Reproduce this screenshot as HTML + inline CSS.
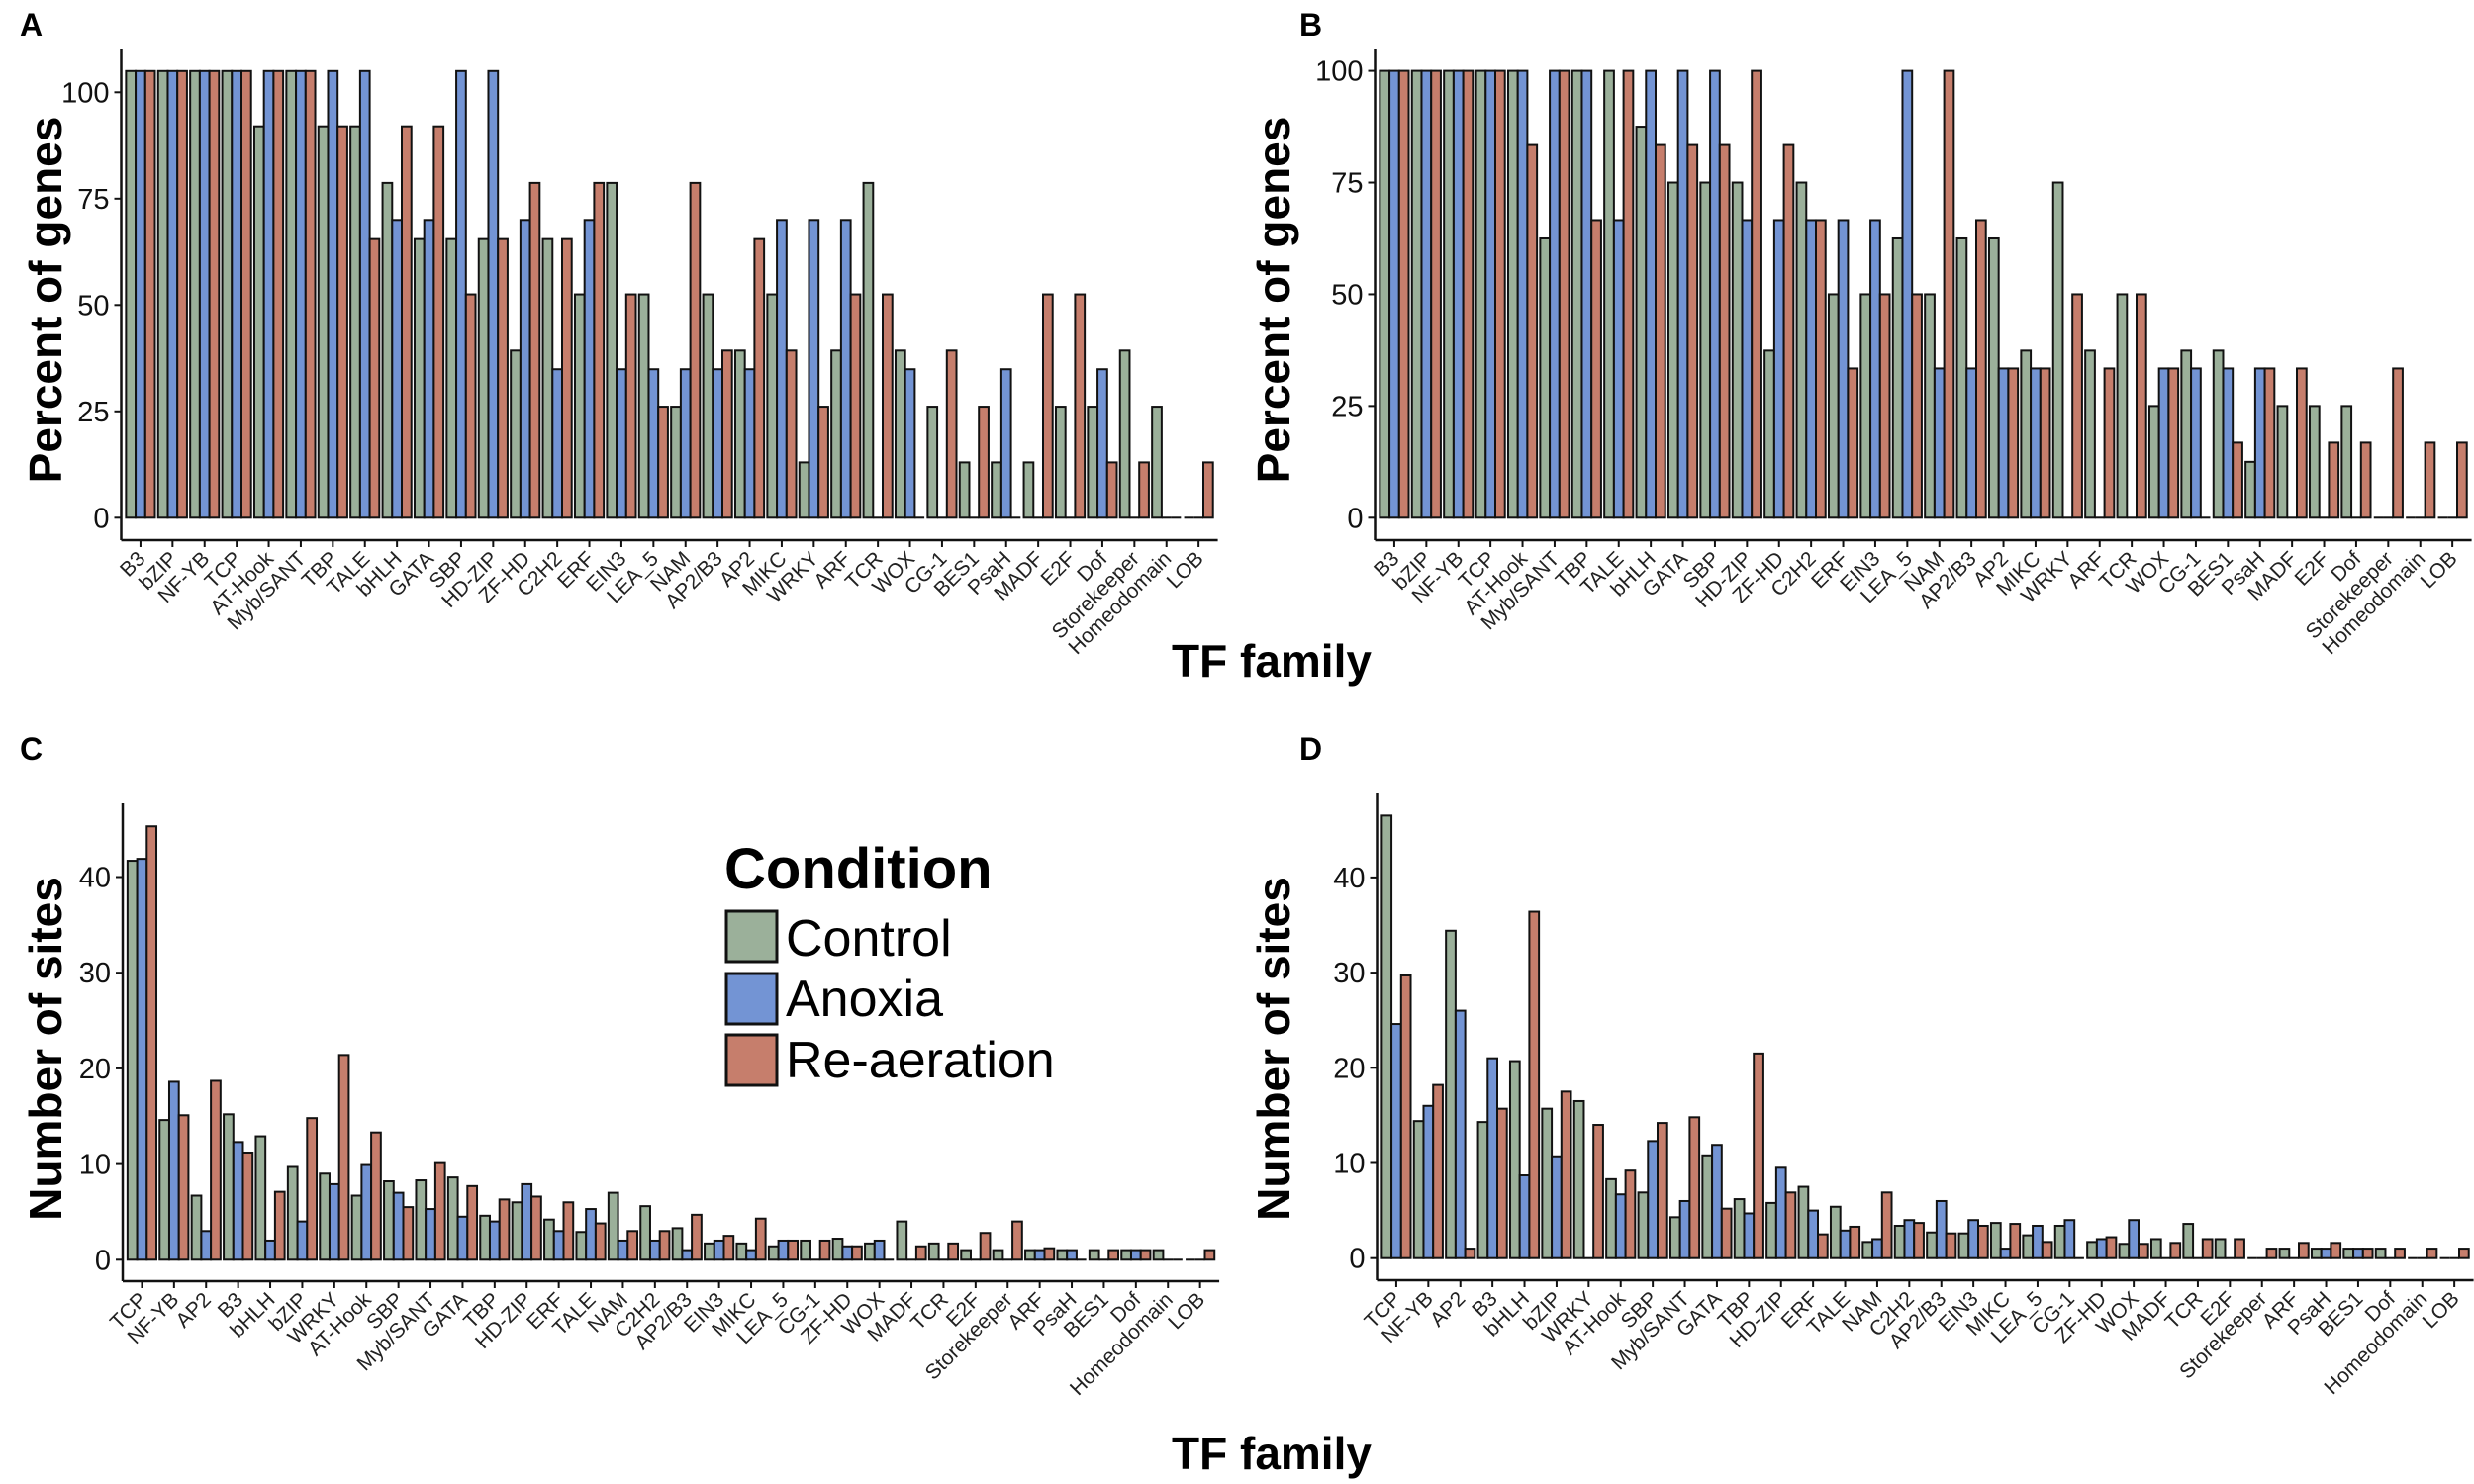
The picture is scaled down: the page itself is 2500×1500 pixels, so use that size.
<!DOCTYPE html>
<html><head><meta charset="utf-8"><style>
html,body{margin:0;padding:0;background:#fff;}
svg{display:block;font-family:"Liberation Sans",Arial,sans-serif;}
</style></head><body>
<svg id="fig" width="2500" height="1500" viewBox="0 0 2500 1500" xmlns="http://www.w3.org/2000/svg">
<rect x="0" y="0" width="2500" height="1500" fill="#fff"/>
<text x="20" y="36" font-size="32" font-weight="bold">A</text>
<text x="1313" y="36" font-size="32" font-weight="bold">B</text>
<text x="20" y="768" font-size="32" font-weight="bold">C</text>
<text x="1313" y="768" font-size="32" font-weight="bold">D</text>
<text transform="translate(62,303) rotate(-90)" text-anchor="middle" font-size="46" font-weight="bold">Percent of genes</text>
<text transform="translate(1303,303) rotate(-90)" text-anchor="middle" font-size="46" font-weight="bold">Percent of genes</text>
<text transform="translate(62,1060) rotate(-90)" text-anchor="middle" font-size="46" font-weight="bold">Number of sites</text>
<text transform="translate(1303,1060) rotate(-90)" text-anchor="middle" font-size="46" font-weight="bold">Number of sites</text>
<text x="1285" y="684" text-anchor="middle" font-size="46" font-weight="bold">TF family</text>
<text x="1285" y="1485" text-anchor="middle" font-size="46" font-weight="bold">TF family</text>
<g>
<text x="732" y="898" font-size="58" font-weight="bold">Condition</text>
<rect x="734" y="921" width="51" height="51" fill="#9bb09a" stroke="#111" stroke-width="3"/>
<text x="794" y="966" font-size="52">Control</text>
<rect x="734" y="984" width="51" height="51" fill="#7394d4" stroke="#111" stroke-width="3"/>
<text x="794" y="1027" font-size="52">Anoxia</text>
<rect x="734" y="1046" width="51" height="51" fill="#c67e6c" stroke="#111" stroke-width="3"/>
<text x="794" y="1089" font-size="52">Re-aeration</text>
</g>
</svg>
<script>
const catsAB = ["B3","bZIP","NF-YB","TCP","AT-Hook","Myb/SANT","TBP","TALE","bHLH","GATA","SBP","HD-ZIP","ZF-HD","C2H2","ERF","EIN3","LEA_5","NAM","AP2/B3","AP2","MIKC","WRKY","ARF","TCR","WOX","CG-1","BES1","PsaH","MADF","E2F","Dof","Storekeeper","Homeodomain","LOB"];
const catsCD = ["TCP","NF-YB","AP2","B3","bHLH","bZIP","WRKY","AT-Hook","SBP","Myb/SANT","GATA","TBP","HD-ZIP","ERF","TALE","NAM","C2H2","AP2/B3","EIN3","MIKC","LEA_5","CG-1","ZF-HD","WOX","MADF","TCR","E2F","Storekeeper","ARF","PsaH","BES1","Dof","Homeodomain","LOB"];
const ticksAB = [0,25,50,75,100];
const ticksCD = [0,10,20,30,40];

const ctrlA = [105,105,105,105,92,105,92,92,78.7,65.5,65.5,65.5,39.3,65.5,52.5,78.7,52.5,26.1,52.5,39.3,52.5,13,39.3,78.7,39.3,26.1,13,13,13,26.1,26.1,39.3,26.1,0];
const anoxA = [105,105,105,105,105,105,105,105,70,70,105,105,70,34.9,70,34.9,34.9,34.9,34.9,34.9,70,70,70,0,34.9,0,0,34.9,0,0,34.9,0,0,0];
const reaerA = [105,105,105,105,105,105,92,65.5,92,92,52.5,65.5,78.7,65.5,78.7,52.5,26.1,78.7,39.3,65.5,39.3,26.1,52.5,52.5,0,39.3,26.1,0,52.5,52.5,13,13,0,13];

const ctrlB = [100,100,100,100,100,62.5,100,100,87.5,75,75,75,37.4,75,50,50,62.5,50,62.5,62.5,37.4,75,37.4,50,25,37.4,37.4,12.5,25,25,25,0,0,0];
const anoxB = [100,100,100,100,100,100,100,66.6,100,100,100,66.6,66.6,66.6,66.6,66.6,100,33.4,33.4,33.4,33.4,0,0,0,33.4,33.4,33.4,33.4,0,0,0,0,0,0];
const reaerB = [100,100,100,100,83.4,100,66.6,100,83.4,83.4,83.4,100,83.4,66.6,33.4,50,50,100,66.6,33.4,33.4,50,33.4,50,33.4,0,16.8,33.4,33.4,16.8,16.8,33.4,16.8,16.8];

const ctrlC = [41.7,14.6,6.7,15.2,12.9,9.7,9,6.7,8.2,8.3,8.6,4.6,6,4.2,2.9,7,5.6,3.3,1.7,1.7,1.4,2,2.2,1.7,4,1.7,1,1,1,1,1,1,1,0];
const anoxC = [41.9,18.6,3,12.3,2,4,7.9,9.9,7,5.3,4.5,4,7.9,3,5.3,2,2,1,2,1,2,0,1.4,2,0,0,0,0,1,1,0,1,0,0];
const reaerC = [45.3,15.1,18.7,11.2,7.1,14.8,21.4,13.3,5.5,10.1,7.7,6.3,6.6,6,3.8,3,3,4.7,2.5,4.3,2,2,1.4,0,1.4,1.7,2.8,4,1.2,0,1,1,0,1];

const ctrlD = [46.5,14.4,34.4,14.3,20.7,15.7,16.5,8.3,6.9,4.3,10.8,6.2,5.8,7.5,5.4,1.7,3.4,2.7,2.6,3.7,2.4,3.4,1.7,1.5,2,3.6,2,0,1,1,1,1,0,0];
const anoxD = [24.6,16,26,21,8.7,10.7,0,6.7,12.3,6,11.9,4.7,9.5,5,2.9,2,4,6,4,1,3.4,4,2,4,0,0,0,0,0,1,1,0,0,0];
const reaerD = [29.7,18.2,1,15.7,36.4,17.5,14,9.2,14.2,14.8,5.2,21.5,6.9,2.5,3.3,6.9,3.7,2.6,3.4,3.6,1.7,0,2.2,1.5,1.6,2,2,1,1.6,1.6,1,1,1,1];

const NS = "http://www.w3.org/2000/svg";
const svg = document.getElementById('fig');
const COLORS = ["#9bb09a","#7394d4","#c67e6c"];
const SERIES_NAMES = ["control","anoxia","re-aeration"];

function mk(tag, attrs, parent){
  const e = document.createElementNS(NS, tag);
  for (const k in attrs) e.setAttribute(k, attrs[k]);
  (parent||svg).appendChild(e);
  return e;
}

function panel(p){
  const g = mk('g', {});
  
  
  const period = 32.4;
  const nCat = p.cats.length;
  const xEnd = p.x0 + (nCat - 1 + 1.2) * period;
  const xs = i => p.x0 + (0.6 + i) * period;
  const ys = v => p.zeroY - v * p.ppu;
  const ya = mk('line', {x1:p.x0, y1:p.topY, x2:p.x0, y2:p.axisY, stroke:'#111', 'stroke-width':2.5}, g);
  
  
  const xa = mk('line', {x1:p.x0, y1:p.axisY, x2:xEnd, y2:p.axisY, stroke:'#111', 'stroke-width':2.5}, g);
  
  
  p.ticks.forEach(t => {
    const y = ys(t);
    mk('line', {x1:p.x0-7, y1:y, x2:p.x0, y2:y, stroke:'#111', 'stroke-width':2}, g);
    const tl = mk('text', {x:p.x0-12, y:y+10, 'text-anchor':'end', 'font-size':29, fill:'#111'}, g);
    
    
    tl.textContent = t;
  });
  const w = period * 0.9 / 3;
  p.cats.forEach((c, i) => {
    const cx = xs(i);
    mk('line', {x1:cx, y1:p.axisY, x2:cx, y2:p.axisY+7, stroke:'#111', 'stroke-width':2}, g);
    const lx = cx + 6, ly = p.axisY + 20;
    const lab = mk('text', {x:lx, y:ly, transform:'rotate(-45 '+lx+' '+ly+')', 'text-anchor':'end', 'font-size':21, fill:'#222'}, g);
    
    
    lab.textContent = c;
    p.series.forEach((arr, s) => {
      const v = arr[i];
      const bx = cx - 1.5 * w + s * w;
      if (v > 0) {
        const r = mk('rect', {x:bx, y:ys(v), width:w, height:v * p.ppu, fill:COLORS[s], stroke:'#111', 'stroke-width':2}, g);
        
        
      } else {
        const l = mk('line', {x1:bx, y1:p.zeroY, x2:bx+w, y2:p.zeroY, stroke:'#111', 'stroke-width':2}, g);
        
        
      }
    });
  });
}

panel({id:'a', cats:catsAB, series:[ctrlA, anoxA, reaerA], ticks:ticksAB, x0:122.5, zeroY:523.3, ppu:4.3, topY:50, axisY:546});
panel({id:'b', cats:catsAB, series:[ctrlB, anoxB, reaerB], ticks:ticksAB, x0:1389.5, zeroY:523.3, ppu:4.517, topY:50, axisY:546});
panel({id:'c', cats:catsCD, series:[ctrlC, anoxC, reaerC], ticks:ticksCD, x0:124, zeroY:1273.3, ppu:9.67, topY:812, axisY:1295});
panel({id:'d', cats:catsCD, series:[ctrlD, anoxD, reaerD], ticks:ticksCD, x0:1391.5, zeroY:1271.7, ppu:9.62, topY:802, axisY:1294});
</script>
</body></html>
